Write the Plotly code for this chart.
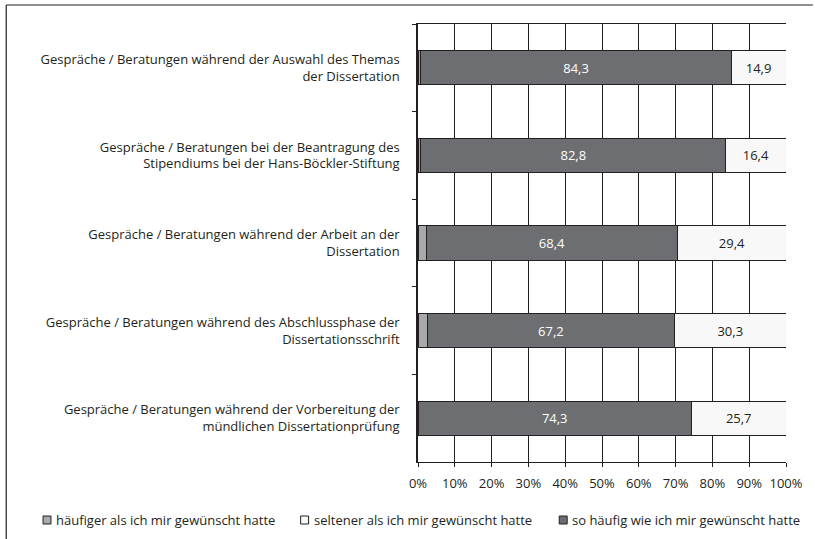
import plotly.graph_objects as go

# category labels (top to bottom as in the picture)
categories = [
    "Gespräche / Beratungen während der Auswahl des Themas<br>der Dissertation",
    "Gespräche / Beratungen bei der Beantragung des<br>Stipendiums bei der Hans-Böckler-Stiftung",
    "Gespräche / Beratungen während der Arbeit an der<br>Dissertation",
    "Gespräche / Beratungen während des Abschlussphase der<br>Dissertationsschrift",
    "Gespräche / Beratungen während der Vorbereitung der<br>mündlichen Dissertationprüfung",
]
haeufiger = [0.8, 0.8, 2.2, 2.5, 0.0]
so_haeufig = [84.3, 82.8, 68.4, 67.2, 74.3]
seltener = [14.9, 16.4, 29.4, 30.3, 25.7]

series_names = [
    "häufiger als ich mir gewünscht hatte",
    "so häufig wie ich mir gewünscht hatte",
    "seltener als ich mir gewünscht hatte",
]
series_colors = ["#a7a9ac", "#6d6e71", "#f8f8f8"]

INK = "#231f20"
FONT = "Open Sans"

# pixel layout of the plot area in the 815x539 window
L, R, T, B = 418, 788, 24, 462
W, H = R - L, B - T


def px_x(p):
    return (p - L) / W


def px_y(p):
    return (B - p) / H


fig = go.Figure()
fig.add_trace(go.Bar(
    y=categories, x=haeufiger, orientation="h", name=series_names[0],
    marker=dict(color=series_colors[0], line=dict(color=INK, width=1)),
    textposition="none",
))
fig.add_trace(go.Bar(
    y=categories, x=so_haeufig, orientation="h", name=series_names[1],
    marker=dict(color=series_colors[1], line=dict(color=INK, width=1)),
    texttemplate="%{x:.1f}", textposition="inside", insidetextanchor="middle",
    textfont=dict(color="white", size=13, family=FONT),
))
fig.add_trace(go.Bar(
    y=categories, x=seltener, orientation="h", name=series_names[2],
    marker=dict(color=series_colors[2], line=dict(color=INK, width=1)),
    texttemplate="%{x:.1f}", textposition="inside", insidetextanchor="middle",
    textfont=dict(color=INK, size=13, family=FONT),
))

# outer frame around the whole chart: only top and left edges are visible
for x0, y0, x1, y1 in [(4, 5, 815, 5), (4, 5, 4, 539)]:
    fig.add_shape(
        type="line", xref="paper", yref="paper",
        x0=px_x(x0), x1=px_x(x1), y0=px_y(y0), y1=px_y(y1),
        line=dict(color=INK, width=1.2), layer="below",
    )

# legend row: small outlined squares followed by the series name
legend_order = [0, 2, 1]
legend_x = [41, 300, 560]
legend_y = 520
for idx, lx in zip(legend_order, legend_x):
    fig.add_shape(
        type="rect", xref="paper", yref="paper",
        x0=px_x(lx), x1=px_x(lx + 8), y0=px_y(legend_y + 4), y1=px_y(legend_y - 4),
        line=dict(color=INK, width=1), fillcolor=series_colors[idx],
    )
    fig.add_annotation(
        xref="paper", yref="paper", x=px_x(lx + 11), y=px_y(legend_y),
        xanchor="left", yanchor="middle", showarrow=False,
        text=series_names[idx], font=dict(size=13, color=INK, family=FONT),
    )

fig.update_layout(
    width=815, height=539,
    margin=dict(l=L, r=815 - R, t=T, b=539 - B),
    barmode="stack", bargap=0.61,
    separators=",.",
    paper_bgcolor="white", plot_bgcolor="white",
    font=dict(family=FONT, size=13, color=INK),
    showlegend=False,
    uniformtext=dict(mode="show", minsize=13),
)
fig.update_xaxes(
    range=[0, 100], dtick=10, ticksuffix="%",
    showgrid=True, gridcolor=INK, gridwidth=1,
    showline=True, linecolor=INK, linewidth=1, mirror=True,
    ticks="outside", ticklen=4, tickcolor=INK, ticklabelstandoff=5,
    zeroline=False, fixedrange=True,
)
fig.update_yaxes(
    autorange="reversed", showgrid=False,
    showline=True, linecolor=INK, linewidth=1.5,
    ticks="outside", ticklen=4, tickcolor=INK, tickson="boundaries",
    ticklabelstandoff=14, fixedrange=True,
)

fig.write_html(
    "out.html",
    config={"displayModeBar": False},
    post_script="document.body.style.margin='0';document.body.style.overflow='hidden';",
)
